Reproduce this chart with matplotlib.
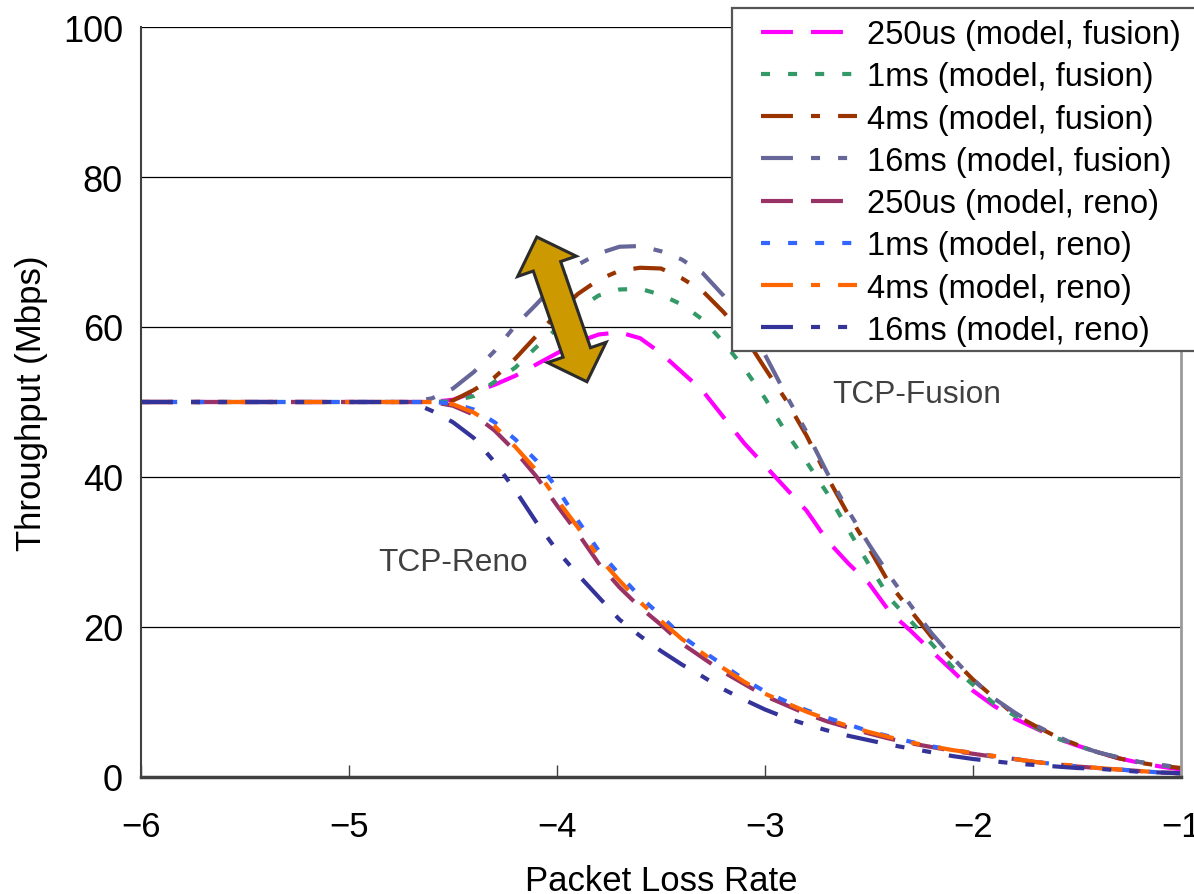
import numpy as np
import matplotlib
matplotlib.use("Agg")
import matplotlib.pyplot as plt
from matplotlib.lines import Line2D
from matplotlib.patches import Polygon, Rectangle

# log10 of the packet loss rate
LOG_LOSS = [-6.0, -5.5, -5.0, -4.8, -4.7,
            -4.6, -4.5, -4.4, -4.3, -4.2, -4.1, -4.0, -3.9, -3.8, -3.7,
            -3.6, -3.5, -3.4, -3.3, -3.2, -3.1, -3.0, -2.9, -2.8, -2.7,
            -2.6, -2.5, -2.4, -2.3, -2.2, -2.1, -2.0, -1.9, -1.8, -1.7,
            -1.6, -1.5, -1.4, -1.3, -1.2, -1.1, -1.0]

# Throughput (Mbps), TCP-Fusion model
FUSION_250US = [50, 50, 50, 50, 50,
                50.0, 50.3, 51.3, 52.3, 53.5, 55.0, 56.5, 58.0, 59.0, 59.3,
                58.5, 56.5, 54.0, 51.5, 48.0, 44.5, 41.5, 38.5, 35.5, 31.5,
                28.5, 25.8, 22.0, 19.5, 16.8, 14.2, 11.5, 9.5, 7.8, 6.5,
                5.2, 4.2, 3.3, 2.5, 1.9, 1.4, 1.0]
FUSION_1MS = [50, 50, 50, 50, 50,
              50.0, 50.1, 50.8, 52.7, 54.6, 57.3, 59.8, 62.4, 64.2, 65.0,
              65.1, 64.3, 63.0, 61.0, 58.0, 54.5, 50.5, 46.0, 42.0, 37.8,
              33.0, 28.3, 23.8, 20.8, 17.8, 14.7, 12.3, 9.8, 8.2, 6.6,
              5.2, 4.2, 3.3, 2.6, 2.0, 1.6, 1.2]
FUSION_4MS = [50, 50, 50, 50, 50,
              50.0, 50.2, 51.6, 53.3, 55.8, 58.8, 61.8, 64.4, 66.3, 67.5,
              67.9, 67.8, 66.5, 64.8, 62.0, 58.8, 54.5, 50.3, 45.5, 40.0,
              35.0, 30.5, 25.7, 22.2, 18.7, 15.8, 13.0, 10.6, 8.3, 6.8,
              5.4, 4.3, 3.3, 2.5, 1.9, 1.5, 1.2]
FUSION_16MS = [50, 50, 50, 50, 50,
               50.5, 51.8, 54.0, 56.8, 60.2, 63.0, 66.0, 68.3, 69.8, 70.7,
               70.8, 70.1, 69.0, 67.2, 64.2, 60.5, 56.3, 51.0, 46.0, 40.5,
               35.5, 31.0, 26.8, 22.9, 19.2, 16.0, 13.0, 10.5, 8.6, 6.9,
               5.5, 4.2, 3.3, 2.6, 2.0, 1.6, 1.3]

# Throughput (Mbps), TCP-Reno model
RENO_250US = [50, 50, 50, 50, 50,
              50.0, 49.5, 48.3, 46.2, 43.4, 40.1, 36.2, 32.5, 28.5, 25.3,
              22.6, 20.3, 17.8, 15.9, 14.0, 12.4, 10.8, 9.6, 8.4, 7.4,
              6.6, 5.8, 5.1, 4.5, 4.0, 3.5, 3.1, 2.7, 2.4, 2.0,
              1.7, 1.4, 1.2, 1.0, 0.8, 0.6, 0.5]
RENO_1MS = [50, 50, 50, 50, 50,
            50.0, 49.8, 49.0, 47.3, 45.0, 42.2, 38.5, 34.2, 30.2, 27.0,
            24.0, 21.5, 18.8, 16.8, 14.9, 13.0, 11.4, 10.1, 8.9, 7.9,
            7.0, 6.1, 5.4, 4.7, 4.1, 3.6, 3.2, 2.8, 2.4, 2.0,
            1.7, 1.4, 1.2, 1.0, 0.8, 0.6, 0.5]
RENO_4MS = [50, 50, 50, 50, 50,
            50.0, 49.7, 48.6, 46.8, 44.0, 40.9, 37.0, 33.3, 29.3, 26.2,
            23.3, 20.8, 18.4, 16.5, 14.5, 12.7, 11.1, 9.9, 8.7, 7.7,
            6.8, 6.0, 5.3, 4.6, 4.1, 3.6, 3.2, 2.8, 2.4, 2.0,
            1.7, 1.5, 1.2, 1.0, 0.8, 0.6, 0.5]
RENO_16MS = [50, 50, 50, 50, 50,
             48.8, 47.3, 45.2, 42.0, 38.2, 34.0, 30.2, 27.0, 24.0, 21.0,
             18.8, 16.8, 15.0, 13.4, 11.7, 10.3, 9.0, 7.9, 7.0, 6.2,
             5.5, 4.9, 4.3, 3.8, 3.3, 2.8, 2.4, 2.1, 1.8, 1.6,
             1.4, 1.2, 1.1, 0.9, 0.7, 0.6, 0.5]

SERIES = [FUSION_250US, FUSION_1MS, FUSION_4MS, FUSION_16MS,
          RENO_250US, RENO_1MS, RENO_4MS, RENO_16MS]
LABELS = ["250us (model, fusion)", "1ms (model, fusion)",
          "4ms (model, fusion)", "16ms (model, fusion)",
          "250us (model, reno)", "1ms (model, reno)",
          "4ms (model, reno)", "16ms (model, reno)"]
COLORS = ["#FF00FF", "#339966", "#993300", "#666699",
          "#993366", "#3366FF", "#FF6600", "#333399"]

X_TICKS = [-6, -5, -4, -3, -2, -1]
Y_TICKS = [0, 20, 40, 60, 80, 100]

# dash patterns in points
LONG_DASH = (23, 13)
DOT = (6.5, 13)
DASH_DOT = (23, 13, 6.5, 13)
DASH_DOT_DOT = (23, 13, 6.5, 13, 6.5, 13)
DASHES = [LONG_DASH, DOT, DASH_DOT, DASH_DOT_DOT,
          LONG_DASH, DOT, DASH_DOT, DASH_DOT_DOT]

# double-headed arrow between the 250us and 16ms peaks (data coords of tips)
ARROW_TIP_TOP = (-4.097, 72.0)
ARROW_TIP_BOTTOM = (-3.856, 52.7)

plt.rcParams["lines.scale_dashes"] = False
FONT = ["Liberation Sans", "DejaVu Sans"]

W, H, DPI = 1194, 895, 100
fig = plt.figure(figsize=(W / DPI, H / DPI), dpi=DPI)
ax = fig.add_axes([141 / W, 1 - 778 / H, 1040 / W, 750 / H])

ax.set_xlim(-6, -1)
ax.set_ylim(0, 100)
ax.set_xticks(X_TICKS)
ax.set_yticks(Y_TICKS)

ax.grid(axis="y", color="black", linewidth=0.9)
ax.set_axisbelow(True)

lw = 3.0
for ys, col, dsh, lab in zip(SERIES, COLORS, DASHES, LABELS):
    ax.plot(LOG_LOSS, ys, color=col, linewidth=lw, dashes=dsh,
            dash_capstyle="butt", solid_capstyle="butt", label=lab)

# spines and ticks
ax.spines["top"].set_visible(False)
ax.spines["left"].set_color("#404040")
ax.spines["left"].set_linewidth(1.5)
ax.spines["bottom"].set_color("#404040")
ax.spines["bottom"].set_linewidth(2.5)
ax.spines["right"].set_color("#9a9a9a")
ax.spines["right"].set_linewidth(2.0)
ax.tick_params(axis="x", direction="in", length=9, width=1.0,
               color="#404040", pad=24, labelsize=25)
ax.tick_params(axis="y", length=0, pad=13, labelsize=26)
for t in ax.get_xticklabels() + ax.get_yticklabels():
    t.set_family(FONT)

ax.set_xlabel("Packet Loss Rate", fontsize=25, family=FONT, va="top")
ax.xaxis.set_label_coords(0.5, -0.116)
ax.set_ylabel("Throughput (Mbps)", fontsize=25, family=FONT)
ax.yaxis.set_label_coords(-0.089, 0.5)

ax.text(-2.675, 50.0, "TCP-Fusion", fontsize=22.8, family=FONT,
        color="#404040", ha="left", va="baseline")
ax.text(-4.861, 27.6, "TCP-Reno", fontsize=22.8, family=FONT,
        color="#404040", ha="left", va="baseline")

# gold double arrow, built in pixel space so the heads keep their shape
p0 = ax.transData.transform(ARROW_TIP_TOP)
p1 = ax.transData.transform(ARROW_TIP_BOTTOM)
u = (p1 - p0) / np.hypot(*(p1 - p0))
n = np.array([-u[1], u[0]])
head_len, head_w, shaft_w = 31.0, 62.0, 29.0
b0 = p0 + u * head_len
b1 = p1 - u * head_len
pts = np.array([p0,
                b0 + n * head_w / 2, b0 + n * shaft_w / 2,
                b1 + n * shaft_w / 2, b1 + n * head_w / 2,
                p1,
                b1 - n * head_w / 2, b1 - n * shaft_w / 2,
                b0 - n * shaft_w / 2, b0 - n * head_w / 2])
pts_data = ax.transData.inverted().transform(pts)
ax.add_patch(Polygon(pts_data, closed=True, facecolor="#CC9900",
                     edgecolor="#2b2b2b", linewidth=2.2, zorder=5,
                     joinstyle="miter"))

# legend box, running off the right edge of the figure
box = Rectangle((732 / W, 1 - 352 / H), (1210 - 732) / W, (352 - 9) / H,
                transform=fig.transFigure, facecolor="white",
                edgecolor="#555555", linewidth=1.6, zorder=8, clip_on=False)
ax.add_patch(box)

leg_handles = [Line2D([0], [0], color=c, linewidth=lw, dashes=d,
                      dash_capstyle="butt") for c, d in zip(COLORS, DASHES)]
leg = ax.legend(leg_handles, LABELS, loc="upper left",
                bbox_to_anchor=(761 / W, 1 - 20 / H),
                bbox_transform=fig.transFigure, frameon=False,
                borderpad=0, borderaxespad=0, handlelength=2.94,
                handletextpad=0.31, labelspacing=0.345,
                prop={"family": FONT, "size": 23.5})
leg.set_zorder(9)

fig.savefig("out.png", dpi=DPI)
